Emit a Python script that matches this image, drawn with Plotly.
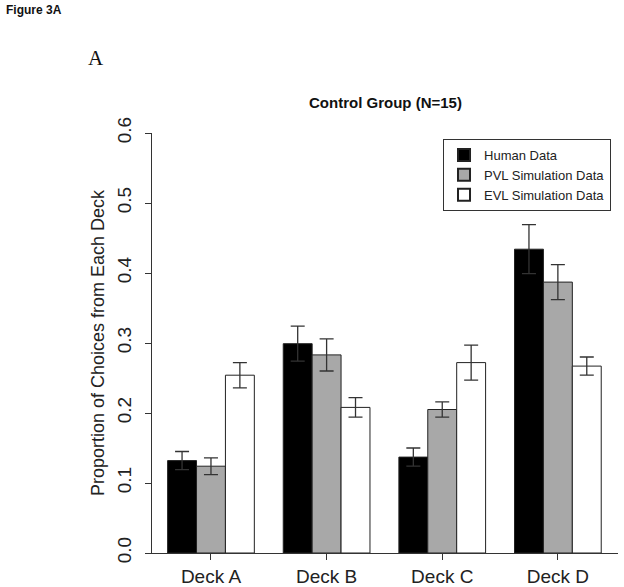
import plotly.graph_objects as go

decks = ["Deck A", "Deck B", "Deck C", "Deck D"]
series_names = ["Human Data", "PVL Simulation Data", "EVL Simulation Data"]
human = [0.132, 0.299, 0.137, 0.434]
human_err = [0.013, 0.025, 0.013, 0.035]
pvl = [0.124, 0.283, 0.205, 0.387]
pvl_err = [0.012, 0.023, 0.011, 0.025]
evl = [0.254, 0.208, 0.272, 0.267]
evl_err = [0.018, 0.014, 0.025, 0.013]
y_ticks = [0.0, 0.1, 0.2, 0.3, 0.4, 0.5, 0.6]

FONT = "Liberation Sans, Arial, sans-serif"
fills = ["#000000", "#A8A8A8", "#FFFFFF"]
values = [human, pvl, evl]
errors = [human_err, pvl_err, evl_err]

fig = go.Figure()
for name, vals, errs, fill in zip(series_names, values, errors, fills):
    fig.add_trace(go.Bar(
        x=decks, y=vals, name=name,
        marker=dict(color=fill, line=dict(color="#222222", width=1)),
        error_y=dict(type="data", array=errs, visible=True,
                     color="#333333", thickness=1.3, width=7),
    ))

fig.update_layout(
    width=624, height=587,
    margin=dict(l=152, r=6, t=133, b=34, autoexpand=False),
    paper_bgcolor="white", plot_bgcolor="white",
    barmode="group", bargap=0.25, bargroupgap=0,
    font=dict(family=FONT, color="#222222"),
    showlegend=True,
    legend=dict(
        x=0.985, xanchor="right", y=(553 - 139) / 420, yanchor="top",
        bordercolor="#333333", borderwidth=1, bgcolor="white",
        font=dict(family=FONT, size=13, color="#222222"),
        tracegroupgap=0, itemsizing="constant",
    ),
    xaxis=dict(
        type="category", range=[-0.51, 3.52], automargin=False,
        showline=True, linecolor="#333333", linewidth=1,
        ticks="outside", ticklen=6, tickcolor="#333333",
        tickfont=dict(family=FONT, size=19, color="#222222"),
        showgrid=False, zeroline=False, fixedrange=True,
    ),
    yaxis=dict(
        range=[0, 0.6], tickvals=y_ticks, automargin=False,
        ticktext=[f"{v:.1f}" for v in y_ticks],
        tickangle=-90, ticklabelstandoff=6,
        showline=True, linecolor="#333333", linewidth=1,
        ticks="outside", ticklen=6, tickcolor="#333333",
        tickfont=dict(family=FONT, size=19, color="#222222"),
        title=dict(text="Proportion of Choices from Each Deck",
                   font=dict(family=FONT, size=18, color="#222222"),
                   standoff=5),
        showgrid=False, zeroline=False, fixedrange=True,
    ),
    annotations=[
        dict(text="<b>Control Group (N=15)</b>", xref="paper", yref="paper",
             x=0.5, y=(553 - 102) / 420, xanchor="center", yanchor="middle",
             showarrow=False, font=dict(family=FONT, size=15, color="#111111")),
        dict(text="<b>Figure 3A</b>", xref="paper", yref="paper",
             x=(4 - 152) / 466, y=(553 - 10) / 420, xanchor="left", yanchor="middle",
             showarrow=False, font=dict(family=FONT, size=12, color="#111111")),
        dict(text="A", xref="paper", yref="paper",
             x=(86 - 152) / 466, y=(553 - 58) / 420, xanchor="left", yanchor="middle",
             showarrow=False,
             font=dict(family="Liberation Serif, Times New Roman, serif", size=21, color="#111111")),
    ],
)

fig.write_html("out.html", config={"displayModeBar": False, "staticPlot": True},
               post_script="document.body.style.margin='0px';")
